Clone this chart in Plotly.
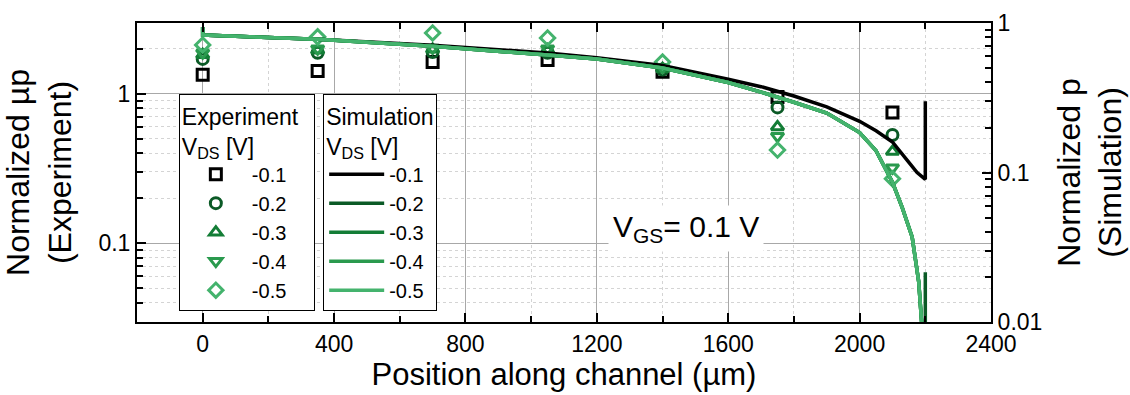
import plotly.graph_objects as go

# ---------------- data ----------------
vds_labels = ["-0.1", "-0.2", "-0.3", "-0.4", "-0.5"]
colors = ["#000000", "#0b5a26", "#137d36", "#2a9a4e", "#44b36d"]
symbols = ["square-open", "circle-open", "triangle-up-open", "triangle-down-open", "diamond-open"]

# Experiment (normalized mu*p, left axis)
pos_exp = [0, 350, 700, 1050, 1400, 1750, 2100]
exp_01 = [1.34, 1.42, 1.63, 1.68, 1.40, 0.95, 0.75]
exp_02 = [1.71, 1.88, 1.90, 1.88, 1.45, 0.81, 0.53]
exp_03 = [1.82, 1.95, 1.98, 1.96, 1.47, 0.60, 0.41]
exp_04 = [1.88, 2.00, 2.02, 2.00, 1.50, 0.52, 0.32]
exp_05 = [2.12, 2.40, 2.55, 2.36, 1.63, 0.42, 0.27]
exp_all = [exp_01, exp_02, exp_03, exp_04, exp_05]

# Simulation (normalized p, right axis)
pos_sim_01 = [0, 0, 350, 700, 1050, 1200, 1400, 1500, 1600, 1700, 1750, 1800, 1900, 2000, 2050, 2100, 2150, 2175, 2200, 2200]
sim_01 = [0.94, 0.83, 0.78, 0.71, 0.63, 0.585, 0.52, 0.47, 0.42, 0.375, 0.35, 0.325, 0.275, 0.22, 0.19, 0.16, 0.117, 0.10, 0.09, 0.30]

pos_sim_g = [0, 0, 350, 700, 1050, 1200, 1400, 1500, 1600, 1700, 1750, 1800, 1900, 2000, 2050, 2100, 2130, 2160, 2180, 2190, 2196, 2200, 2200]
sim_02 = [0.94, 0.83, 0.78, 0.70, 0.61, 0.575, 0.50, 0.45, 0.40, 0.345, 0.32, 0.295, 0.25, 0.185, 0.14, 0.086, 0.058, 0.037, 0.0185, 0.0105, 0.006, 0.003, 0.0215]
sim_03 = [0.94, 0.83, 0.78, 0.70, 0.61, 0.575, 0.50, 0.45, 0.40, 0.345, 0.32, 0.295, 0.25, 0.185, 0.14, 0.086, 0.058, 0.037, 0.0185, 0.0105, 0.006, 0.003, 0.008]
sim_04 = [0.94, 0.83, 0.78, 0.70, 0.61, 0.575, 0.50, 0.45, 0.40, 0.345, 0.32, 0.295, 0.25, 0.185, 0.14, 0.086, 0.058, 0.037, 0.0185, 0.0105, 0.006, 0.003, 0.008]
sim_05 = [0.94, 0.83, 0.78, 0.70, 0.61, 0.575, 0.50, 0.45, 0.40, 0.345, 0.32, 0.295, 0.25, 0.185, 0.14, 0.086, 0.058, 0.037, 0.0185, 0.0105, 0.006, 0.003, 0.008]
sim_pos_all = [pos_sim_01, pos_sim_g, pos_sim_g, pos_sim_g, pos_sim_g]
sim_all = [sim_01, sim_02, sim_03, sim_04, sim_05]

x_ticks = [0, 400, 800, 1200, 1600, 2000, 2400]
y_left_ticks = [0.1, 1]
y_left_minor = [0.04, 0.05, 0.06, 0.07, 0.08, 0.09, 0.2, 0.3, 0.4, 0.5, 0.6, 0.7, 0.8, 0.9, 2]
y_right_ticks = [0.01, 0.1, 1]
y_right_minor = [0.02, 0.03, 0.04, 0.05, 0.06, 0.07, 0.08, 0.09, 0.2, 0.3, 0.4, 0.5, 0.6, 0.7, 0.8, 0.9]

FONT = "Liberation Sans, Arial, sans-serif"

fig = go.Figure()

for lab, col, sym, ys in zip(vds_labels, colors, symbols, exp_all):
    fig.add_trace(go.Scatter(
        x=pos_exp, y=ys, mode="markers", name=lab, legend="legend",
        marker=dict(symbol=sym, size=11, color=col, line=dict(width=3, color=col)),
        yaxis="y", showlegend=True,
    ))

for lab, col, xs, ys in zip(vds_labels, colors, sim_pos_all, sim_all):
    fig.add_trace(go.Scatter(
        x=xs, y=ys, mode="lines", name=lab, legend="legend2",
        line=dict(color=col, width=3.5), yaxis="y2",
    ))

grid_major = "#a8a8a8"
grid_minor = "#d4d4d4"

fig.update_layout(
    width=1130, height=395,
    margin=dict(l=137, r=139, t=23, b=73),
    paper_bgcolor="white", plot_bgcolor="white",
    font=dict(family=FONT, size=23, color="black"),
    xaxis=dict(
        range=[-200, 2400], tickvals=x_ticks, ticks="inside", ticklen=9, tickwidth=2,
        tickcolor="black", showline=True, linecolor="black", linewidth=2, mirror="ticks",
        showgrid=True, gridcolor=grid_major, gridwidth=1,
        minor=dict(dtick=200, ticks="inside", ticklen=6, tickwidth=2, tickcolor="black",
                   showgrid=True, gridcolor=grid_minor, griddash="dot"),
        tickfont=dict(size=23), automargin=False,
        title=dict(text="Position along channel (µm)", font=dict(size=31), standoff=2),
        zeroline=False,
    ),
    yaxis=dict(
        type="log", range=[-1.527, 0.473], tickvals=y_left_ticks, ticktext=["0.1", "1"],
        ticks="inside", ticklen=9, tickwidth=2, tickcolor="black",
        showline=True, linecolor="black", linewidth=2,
        showgrid=True, gridcolor=grid_major, gridwidth=1,
        minor=dict(tickvals=y_left_minor, ticks="inside", ticklen=6, tickwidth=2, tickcolor="black",
                   showgrid=True, gridcolor=grid_minor, griddash="dot"),
        tickfont=dict(size=23), automargin=False,
        title=dict(text="Normalized µp<br>(Experiment)", font=dict(size=32), standoff=18),
        zeroline=False,
    ),
    yaxis2=dict(
        type="log", range=[-2, 0], overlaying="y", side="right",
        tickvals=y_right_ticks, ticktext=["0.01", "0.1", "1"],
        ticks="inside", ticklen=9, tickwidth=2, tickcolor="black",
        showline=True, linecolor="black", linewidth=2, showgrid=False,
        minor=dict(tickvals=y_right_minor, ticks="inside", ticklen=6, tickwidth=2,
                   tickcolor="black", showgrid=False),
        tickfont=dict(size=23), automargin=False,
        title=dict(text="Normalized p<br>(Simulation)", font=dict(size=32), standoff=16),
        zeroline=False,
    ),
    legend=dict(
        x=0.049, y=0.763, xanchor="left", yanchor="top",
        bgcolor="white", bordercolor="black", borderwidth=1,
        font=dict(size=20),
        title=dict(text="Experiment&nbsp;&nbsp;<br>V<sub>DS</sub> [V]", font=dict(size=23)),
        tracegroupgap=0, itemwidth=62,
    ),
    legend2=dict(
        x=0.218, y=0.763, xanchor="left", yanchor="top",
        bgcolor="white", bordercolor="black", borderwidth=1,
        font=dict(size=20),
        title=dict(text="Simulation<br>V<sub>DS</sub> [V]", font=dict(size=23)),
        tracegroupgap=0, itemwidth=55,
    ),
    annotations=[dict(
        x=1470, y=0.234, xref="x", yref="paper", showarrow=False,
        text="V<sub>GS</sub>= 0.1 V", font=dict(size=30, color="black"),
        bgcolor="white", borderpad=4,
    )],
)

fig.write_html(
    "out.html",
    config={"displayModeBar": False},
    post_script="document.body.style.margin='0';document.body.style.overflow='hidden';",
)
